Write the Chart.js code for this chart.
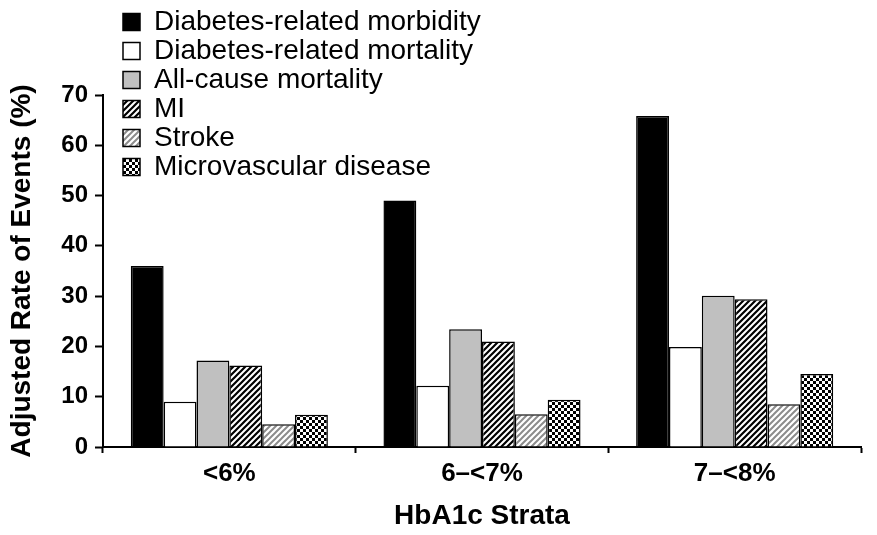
<!DOCTYPE html>
<html>
<head>
<meta charset="utf-8">
<script src="https://cdn.jsdelivr.net/npm/chart.js@4.4.1/dist/chart.umd.min.js"></script>
<style>
  html, body { margin: 0; padding: 0; background: #fff; }
  #wrap { width: 877px; height: 535px; }
</style>
</head>
<body>
<div id="wrap"><canvas id="hba1c"></canvas></div>
<script>
// values (adjusted rate of events, %)
var strata = ["<6%", "6\u2013<7%", "7\u2013<8%"];
var morbidity = [36.0, 49.0, 65.8];
var dmMortality = [9.0, 12.2, 19.9];
var allCause = [17.2, 23.4, 30.1];
var mi = [16.2, 21.0, 29.4];
var stroke = [4.5, 6.5, 8.5];
var microvascular = [6.4, 9.4, 14.5];
var yTicks = [0, 10, 20, 30, 40, 50, 60, 70];

function makePattern(kind) {
  var c = document.createElement('canvas');
  var s = 6;
  c.width = s; c.height = s;
  var g = c.getContext('2d');
  g.fillStyle = '#fff';
  g.fillRect(0, 0, s, s);
  if (kind === 'checker') {
    g.fillStyle = '#000';
    g.fillRect(0, 0, 3, 3);
    g.fillRect(3, 3, 3, 3);
  } else {
    g.strokeStyle = kind === 'stripeDark' ? '#000' : '#8c8c8c';
    g.lineWidth = kind === 'stripeDark' ? 2.2 : 2;
    g.beginPath();
    g.moveTo(-1, s + 1); g.lineTo(s + 1, -1);
    g.moveTo(-1, 1); g.lineTo(1, -1);
    g.moveTo(s - 1, s + 1); g.lineTo(s + 1, s - 1);
    g.stroke();
  }
  return g.createPattern(c, 'repeat');
}

function bars(label, data, fill) {
  return {
    label: label,
    data: data,
    backgroundColor: fill,
    borderColor: '#000',
    borderWidth: 1.5
  };
}

// put the legend up in the top-left corner, over the plot
var legendSpot = {
  id: 'legendSpot',
  afterLayout: function (chart) {
    var lg = chart.legend;
    if (!lg) return;
    lg.left = 122;
    lg.top = 7;
    lg.right = 876;
    lg.bottom = 200;
  }
};

Chart.defaults.font.family = "'Liberation Sans', Arial, Helvetica, sans-serif";
Chart.defaults.color = '#000';

var ctx = document.getElementById('hba1c').getContext('2d');
window.hba1cChart = new Chart(ctx, {
  type: 'bar',
  data: {
    labels: strata,
    datasets: [
      bars('Diabetes-related morbidity', morbidity, '#000'),
      bars('Diabetes-related mortality', dmMortality, '#fff'),
      bars('All-cause mortality', allCause, '#c0c0c0'),
      bars('MI', mi, makePattern('stripeDark')),
      bars('Stroke', stroke, makePattern('stripeLight')),
      bars('Microvascular disease', microvascular, makePattern('checker'))
    ]
  },
  options: {
    responsive: true,
    maintainAspectRatio: false,
    animation: false,
    layout: { padding: { left: 0, right: 16, top: 95, bottom: 0 } },
    datasets: {
      bar: { categoryPercentage: 0.78, barPercentage: 1.0 }
    },
    plugins: {
      legend: {
        position: 'chartArea',
        align: 'start',
        labels: {
          boxWidth: 17,
          boxHeight: 17,
          padding: 1,
          color: '#000',
          font: { size: 28 }
        }
      },
      tooltip: { enabled: false }
    },
    scales: {
      x: {
        grid: {
          display: true,
          drawOnChartArea: false,
          drawTicks: true,
          tickLength: 6,
          tickWidth: 2,
          color: '#000',
          offset: true
        },
        border: { display: true, color: '#000', width: 2 },
        ticks: {
          padding: 5,
          color: '#000',
          font: { size: 26, weight: 'bold' }
        },
        title: {
          display: true,
          text: 'HbA1c Strata',
          color: '#000',
          font: { size: 28, weight: 'bold' },
          padding: { top: 0, bottom: 2 }
        },
        afterFit: function (scale) { scale.height = 88; }
      },
      y: {
        min: 0,
        max: 70,
        afterBuildTicks: function (scale) {
          scale.ticks = yTicks.map(function (v) { return { value: v }; });
        },
        grid: {
          display: true,
          drawOnChartArea: false,
          drawTicks: true,
          tickLength: 8,
          tickWidth: 2,
          color: '#000'
        },
        border: { display: true, color: '#000', width: 2 },
        ticks: {
          padding: 7,
          color: '#000',
          font: { size: 24, weight: 'bold' }
        },
        title: {
          display: true,
          text: 'Adjusted Rate of Events (%)',
          color: '#000',
          font: { size: 28, weight: 'bold' },
          padding: { top: 5, bottom: 0 }
        },
        afterFit: function (scale) { scale.width = 103; }
      }
    }
  },
  plugins: [legendSpot]
});
</script>
</body>
</html>
